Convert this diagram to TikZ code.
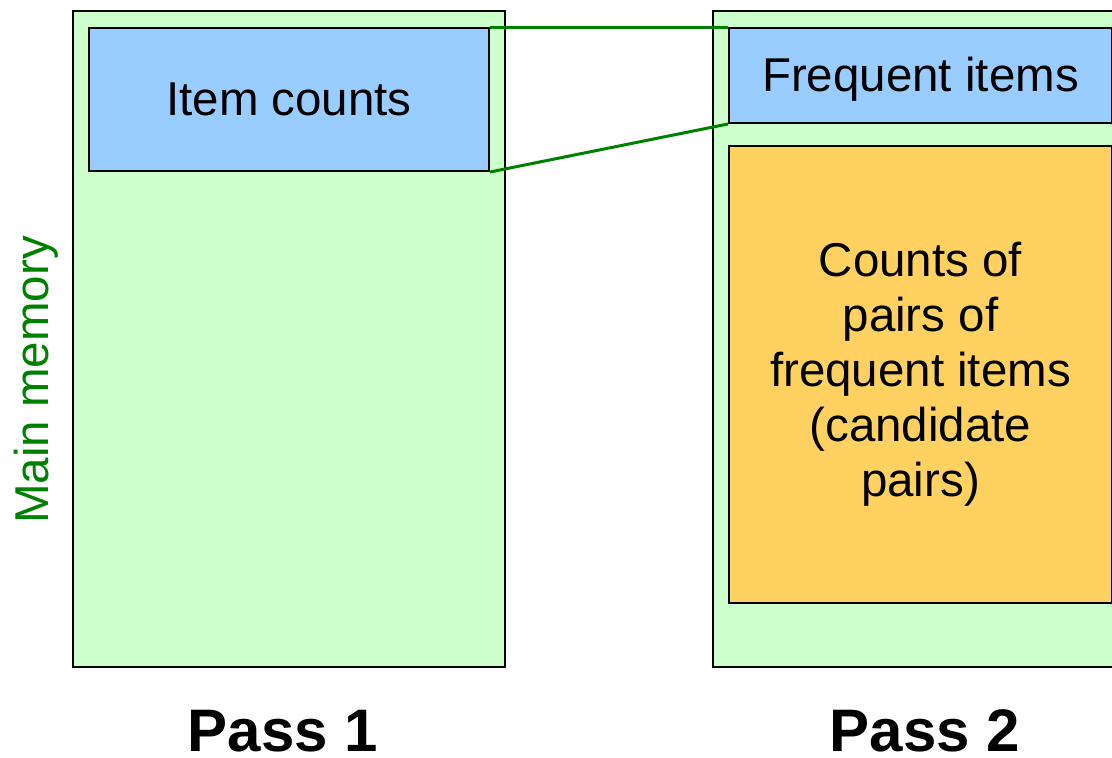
\documentclass[tikz,border=0pt]{standalone}
\usepackage{fontspec}
\setmainfont{Liberation Sans}
\usepackage{xcolor}
\usetikzlibrary{positioning,calc}

\definecolor{memgreen}{HTML}{CCFFCC}
\definecolor{countblue}{HTML}{99CCFF}
\definecolor{pairorange}{HTML}{FFD160}
\definecolor{linegreen}{HTML}{008000}

\begin{document}
\begin{tikzpicture}[x=1pt, y=-1pt,
    membox/.style={draw, line width=2pt, fill=memgreen, anchor=north west, inner sep=0pt},
    countbox/.style={draw, line width=2pt, fill=countblue, anchor=north west, inner sep=0pt,
        font=\fontsize{47.5}{55}\selectfont},
    pairbox/.style={draw, line width=2pt, fill=pairorange, anchor=north west, inner sep=0pt,
        align=center, font=\fontsize{47.5}{55}\selectfont},
    passlabel/.style={font=\fontsize{60}{72}\selectfont\bfseries},
    memlabel/.style={text=linegreen, rotate=90, font=\fontsize{47.5}{55}\selectfont}]
    \useasboundingbox (0,0) rectangle (1112,758);

    % Pass 1
    \node[membox, minimum width=432pt, minimum height=656pt] (mem1) at (72,10) {};
    \node[countbox, minimum width=400pt, minimum height=143pt] (ic) at (88,27) {Item counts};
    \node[passlabel] (p1) at (283,731) {Pass 1};

    % Pass 2
    \node[membox, minimum width=430pt, minimum height=656pt] (mem2) at (712,10) {};
    \node[countbox, minimum width=383pt, minimum height=95pt, text depth=2pt] (fi) at (728,27) {Frequent items};
    \node[pairbox, minimum width=383pt, minimum height=457pt] (cp) at (728,145)
        {Counts of\\pairs of\\frequent items\\(candidate\\pairs)};
    \node[passlabel] (p2) at (925,731) {Pass 2};

    \node[memlabel] (mm) at (36,380) {Main memory};

    % frequent items come from the item counts
    \draw[linegreen, line width=3pt] (ic.north east) -- (fi.north west);
    \draw[linegreen, line width=3pt] (ic.south east) -- (fi.south west);
\end{tikzpicture}
\end{document}
